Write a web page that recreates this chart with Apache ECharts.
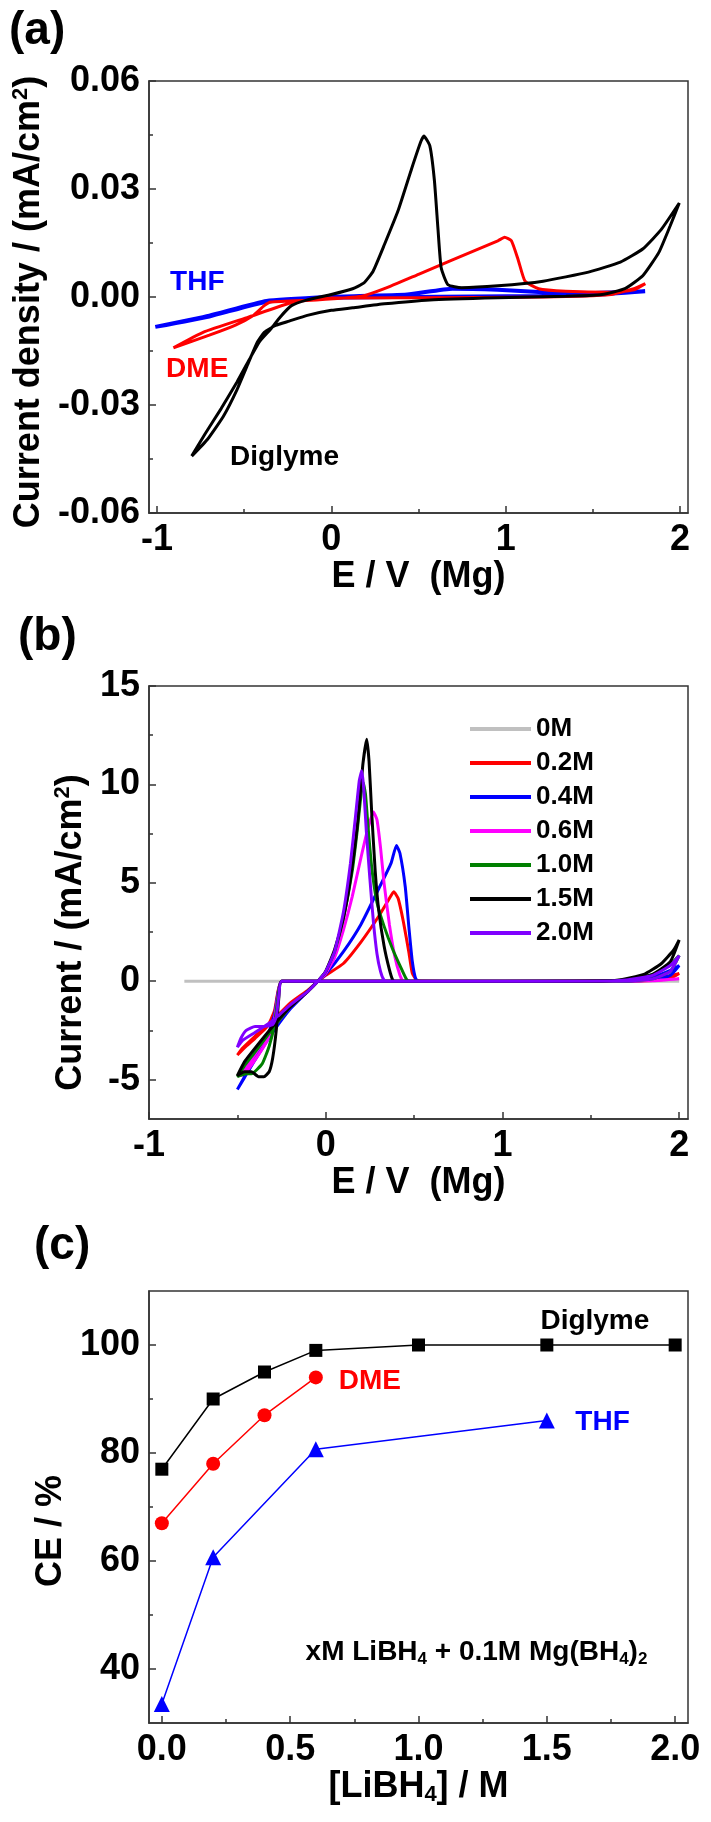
<!DOCTYPE html>
<html><head><meta charset="utf-8">
<script src="https://cdn.jsdelivr.net/npm/echarts@6/dist/echarts.min.js"></script>
<style>html,body{margin:0;padding:0;background:#fff}#c{width:711px;height:1822px}</style>
</head><body><div id="c"></div>
<script>
// ---------- Panel (a): CV in three solvents ----------
const aXTicks = [-1, 0, 1, 2];
const aXMinor = [-0.5, 0.5, 1.5];
const aYTicks = [-0.06, -0.03, 0, 0.03, 0.06];
const aYMinor = [-0.045, -0.015, 0.015, 0.045];
const aDiglyme = [[-0.801,-0.0442],[-0.723,-0.0379],[-0.632,-0.031],[-0.541,-0.0236],[-0.463,-0.0167],[-0.411,-0.0123],[-0.346,-0.0088],[-0.294,-0.0056],[-0.229,-0.0024],[-0.138,-0.0008],[0,0.0007],[0.122,0.0023],[0.187,0.0039],[0.239,0.0071],[0.304,0.0145],[0.383,0.024],[0.461,0.0357],[0.513,0.0431],[0.531,0.0447],[0.565,0.042],[0.591,0.0325],[0.612,0.0187],[0.63,0.0081],[0.669,0.0034],[0.747,0.0026],[0.955,0.0031],[1.215,0.0044],[1.475,0.0069],[1.658,0.0097],[1.788,0.0134],[1.892,0.0187],[1.996,0.0261],[1.944,0.0198],[1.879,0.0124],[1.788,0.006],[1.684,0.0023],[1.553,0.0007],[1.345,0.0002],[0.955,-0.0002],[0.565,-0.0008],[0.304,-0.0019],[0.122,-0.003],[0,-0.0037],[-0.138,-0.0051],[-0.242,-0.0067],[-0.32,-0.0079],[-0.385,-0.0098],[-0.424,-0.0125],[-0.476,-0.0183],[-0.541,-0.0257],[-0.619,-0.0331],[-0.71,-0.0395],[-0.801,-0.0442]];
const aDME = [[-0.906,-0.0141],[-0.7,-0.0106],[-0.55,-0.0078],[-0.45,-0.0052],[-0.385,-0.0024],[-0.346,-0.0014],[-0.086,-0.0008],[0.174,0.0002],[0.304,0.0023],[0.5,0.0063],[0.695,0.0103],[0.955,0.0156],[0.994,0.0166],[1.033,0.0156],[1.072,0.0103],[1.111,0.0044],[1.189,0.0023],[1.345,0.0016],[1.605,0.0013],[1.736,0.002],[1.801,0.0037],[1.736,0.0023],[1.605,0.0007],[1.215,0.0],[0.5,-0.0002],[0,-0.0003],[-0.216,-0.0014],[-0.476,-0.0056],[-0.736,-0.0098],[-0.906,-0.0141]];
const aTHF = [[-1.01,-0.0083],[-0.7,-0.0052],[-0.372,-0.0011],[0,0.0],[0.435,0.0007],[0.695,0.0023],[0.955,0.002],[1.215,0.0013],[1.475,0.0011],[1.8,0.0016],[1.5,0.0006],[1.2,0.0003],[0.435,0.0],[0,-0.0002],[-0.372,-0.0013],[-0.7,-0.0054],[-1.01,-0.0083]];
const aLabels = [["THF", -0.925, 0.0042, "#0000ff"], ["DME", -0.948, -0.020, "#ff0000"], ["Diglyme", -0.581, -0.0444, "#000000"]];

// ---------- Panel (b): CV vs LiBH4 concentration ----------
const bXTicks = [-1, 0, 1, 2];
const bXMinor = [-0.5, 0.5, 1.5];
const bYTicks = [-5, 0, 5, 10, 15];
const bYMinor = [-2.5, 2.5, 7.5, 12.5];
const bNames = ["0M", "0.2M", "0.4M", "0.6M", "1.0M", "1.5M", "2.0M"];
const bColors = ["#c0c0c0", "#ff0000", "#0000ff", "#ff00ff", "#008000", "#000000", "#8000ff"];
const b0M = [[-0.8,0],[2.0,0]];
const b02M = [[0.6,0],[-0.25,0],[-0.27,-0.5],[-0.29,-1.5],[-0.33,-2.3],[-0.4,-2.9],[-0.45,-3.3],[-0.5,-3.75],[-0.47,-3.4],[-0.4,-2.8],[-0.3,-2.0],[-0.2,-1.1],[-0.1,-0.45],[-0.05,-0.05],[0,0.3],[0.1,0.9],[0.2,2.0],[0.3,3.3],[0.36,4.2],[0.385,4.55],[0.41,4.2],[0.44,3.0],[0.47,1.5],[0.49,0.4],[0.52,0.02],[0.7,0],[1.5,0],[1.7,0.03],[1.85,0.12],[1.95,0.28],[2.0,0.4],[1.95,0.15],[1.85,0.04],[1.7,0],[0.6,0]];
const b04M = [[0.6,0],[-0.25,0],[-0.27,-0.6],[-0.29,-1.7],[-0.33,-2.8],[-0.4,-3.9],[-0.45,-4.7],[-0.5,-5.5],[-0.46,-4.9],[-0.4,-4.0],[-0.3,-2.6],[-0.2,-1.4],[-0.1,-0.5],[-0.05,-0.05],[0,0.35],[0.1,1.5],[0.2,2.9],[0.3,4.7],[0.37,6.0],[0.4,6.9],[0.42,6.5],[0.45,4.8],[0.47,2.8],[0.49,1.0],[0.51,0.1],[0.53,0],[1.5,0],[1.7,0.05],[1.85,0.22],[1.95,0.55],[2.0,0.8],[1.95,0.3],[1.85,0.07],[1.7,0],[0.6,0]];
const b06M = [[0.6,0],[-0.25,0],[-0.27,-0.7],[-0.29,-1.9],[-0.33,-3.0],[-0.4,-4.0],[-0.45,-4.6],[-0.48,-4.8],[-0.45,-4.4],[-0.4,-3.7],[-0.3,-2.4],[-0.2,-1.3],[-0.1,-0.5],[-0.05,-0.05],[0,0.4],[0.05,1.2],[0.1,2.6],[0.15,4.3],[0.2,6.3],[0.24,7.8],[0.27,8.6],[0.29,8.2],[0.31,6.8],[0.33,5.0],[0.36,2.9],[0.39,1.3],[0.42,0.3],[0.44,0],[1.5,0],[1.7,0.01],[1.85,0.04],[2.0,0.12],[1.85,0.02],[0.6,0]];
const b10M = [[0.6,0],[-0.25,0],[-0.27,-0.8],[-0.29,-2.2],[-0.32,-3.3],[-0.36,-4.2],[-0.42,-4.7],[-0.45,-4.7],[-0.5,-4.85],[-0.46,-4.3],[-0.4,-3.6],[-0.3,-2.4],[-0.2,-1.3],[-0.1,-0.5],[-0.05,-0.05],[0,0.5],[0.05,1.5],[0.1,3.2],[0.15,5.6],[0.18,7.8],[0.2,9.5],[0.212,10.1],[0.225,9.5],[0.24,7.8],[0.26,5.8],[0.29,4.0],[0.33,2.8],[0.38,1.6],[0.43,0.6],[0.46,0.05],[0.48,0],[1.5,0],[1.7,0.08],[1.85,0.35],[1.95,0.85],[2.0,1.3],[1.95,0.5],[1.85,0.12],[1.7,0.01],[0.6,0]];
const b15M = [[0.6,0],[-0.25,0],[-0.265,-0.8],[-0.28,-2.5],[-0.3,-3.9],[-0.32,-4.6],[-0.35,-4.85],[-0.38,-4.85],[-0.42,-4.6],[-0.46,-4.6],[-0.5,-4.8],[-0.46,-4.1],[-0.4,-3.4],[-0.3,-2.3],[-0.2,-1.3],[-0.1,-0.5],[-0.05,-0.05],[0,0.5],[0.05,1.6],[0.1,3.2],[0.14,5.2],[0.18,8.0],[0.21,11.0],[0.232,12.3],[0.245,11.2],[0.26,8.6],[0.28,5.6],[0.3,3.6],[0.33,1.8],[0.36,0.6],[0.38,0.05],[0.4,0],[1.5,0],[1.65,0.05],[1.8,0.35],[1.9,0.9],[1.97,1.6],[2.0,2.1],[1.95,1.0],[1.85,0.35],[1.7,0.05],[0.6,0]];
const b20M = [[0.6,0],[-0.25,0],[-0.265,-0.7],[-0.28,-1.8],[-0.3,-2.2],[-0.35,-2.3],[-0.4,-2.3],[-0.45,-2.5],[-0.48,-2.9],[-0.5,-3.35],[-0.47,-3.0],[-0.4,-2.6],[-0.3,-2.0],[-0.2,-1.2],[-0.1,-0.5],[-0.05,-0.05],[0,0.5],[0.05,1.5],[0.1,3.5],[0.14,6.0],[0.17,8.5],[0.19,10.2],[0.204,10.7],[0.215,9.8],[0.23,7.6],[0.25,5.2],[0.27,3.0],[0.29,1.4],[0.31,0.5],[0.33,0.05],[0.35,0],[1.5,0],[1.7,0.06],[1.85,0.3],[1.95,0.8],[2.0,1.3],[1.95,0.5],[1.85,0.12],[1.7,0.01],[0.6,0]];
const bData = [b0M, b02M, b04M, b06M, b10M, b15M, b20M];

// ---------- Panel (c): coulombic efficiency ----------
const cXTicks = [0, 0.5, 1.0, 1.5, 2.0];
const cXMinor = [0.25, 0.75, 1.25, 1.75];
const cYTicks = [40, 60, 80, 100];
const cYMinor = [50, 70, 90];
const cDiglymeX = [0, 0.2, 0.4, 0.6, 1.0, 1.5, 2.0];
const cDiglymeY = [77, 90, 95, 99, 100, 100, 100];
const cDMEX = [0, 0.2, 0.4, 0.6];
const cDMEY = [67, 78, 87, 94];
const cTHFX = [0, 0.2, 0.6, 1.5];
const cTHFY = [33.5, 60.7, 80.7, 86];
const cLabels = [["Diglyme", 1.475, 104.4, "#000000"], ["DME", 0.689, 93.3, "#ff0000"], ["THF", 1.611, 85.6, "#0000ff"]];

// ---------- build ----------
const FF = '"Liberation Sans", Arial, sans-serif';
const AX = '#333';
const grids = [
  {left:149, top:81, width:539, height:432},
  {left:149, top:686, width:539, height:433},
  {left:149, top:1291, width:539, height:432}
];
const nameRich = {
  n: {fontSize:36, fontWeight:'bold', fontFamily:FF, color:'#000'},
  sup: {fontSize:22, fontWeight:'bold', fontFamily:FF, color:'#000', padding:[0,0,16,0]},
  sub: {fontSize:22, fontWeight:'bold', fontFamily:FF, color:'#000', padding:[16,0,0,0]}
};
const xAxes = [], yAxes = [];
function addAxis(list, pos, gi, min, max, majors, minors, fmt, name, nameGap, namePad) {
  list.push({
    type:'value', gridIndex:gi, position:pos, min:min, max:max, splitLine:{show:false},
    axisLine:{show:true, onZero:false, lineStyle:{color:AX, width:1.5}},
    axisTick:{show:true, inside:true, length:7, customValues:majors, lineStyle:{color:AX, width:1.5}},
    axisLabel:{show:true, customValues:majors, formatter:fmt, fontSize:36, fontWeight:'bold', fontFamily:FF, color:'#000', margin:9},
    name:name, nameLocation:'middle', nameGap:nameGap,
    nameRotate: pos === 'left' ? 90 : 0,
    nameTextStyle:{rich:nameRich, padding:namePad || 0}
  });
  list.push({
    type:'value', gridIndex:gi, position:pos, min:min, max:max, splitLine:{show:false},
    axisLine:{show:false, onZero:false},
    axisTick:{show:true, inside:true, length:4, customValues:minors, lineStyle:{color:AX, width:1.5}},
    axisLabel:{show:false}
  });
}
const f2 = v => v.toFixed(2);
const f1 = v => v.toFixed(1);
const f0 = v => String(Math.round(v));
addAxis(xAxes, 'bottom', 0, -1.046, 2.046, aXTicks, aXMinor, f0, '{n|E / V  (Mg)}', 38);
addAxis(yAxes, 'left', 0, -0.06, 0.06, aYTicks, aYMinor, f2, '{n|Current density / (mA/cm}{sup|2}{n|)}', 95, [0,10,0,0]);
addAxis(xAxes, 'bottom', 1, -1, 2.05, bXTicks, bXMinor, f0, '{n|E / V  (Mg)}', 43);
addAxis(yAxes, 'left', 1, -7, 15, bYTicks, bYMinor, f0, '{n|Current / (mA/cm}{sup|2}{n|)}', 53, [0,60,0,0]);
addAxis(xAxes, 'bottom', 2, -0.05, 2.05, cXTicks, cXMinor, f1, '{n|[LiBH}{sub|4}{n|] / M}', 40);
addAxis(yAxes, 'left', 2, 30, 110, cYTicks, cYMinor, f0, '{n|CE / %}', 69, [0,48,0,0]);

const series = [];
series.push({type:'line', xAxisIndex:0, yAxisIndex:0, data:aTHF, showSymbol:false, smooth:0.15, lineStyle:{color:'#0000ff', width:4}, itemStyle:{color:'#0000ff'}});
series.push({type:'line', xAxisIndex:0, yAxisIndex:0, data:aDME, showSymbol:false, smooth:0.15, lineStyle:{color:'#ff0000', width:3}, itemStyle:{color:'#ff0000'}});
series.push({type:'line', xAxisIndex:0, yAxisIndex:0, data:aDiglyme, showSymbol:false, smooth:0.15, lineStyle:{color:'#000000', width:3}, itemStyle:{color:'#000'}});
bNames.forEach((n, i) => {
  series.push({type:'line', name:n, xAxisIndex:2, yAxisIndex:2, data:bData[i], showSymbol:false, smooth:0.15,
    lineStyle:{color:bColors[i], width:3}, itemStyle:{color:bColors[i]}});
});
const zip = (xs, ys) => xs.map((x, i) => [x, ys[i]]);
series.push({type:'line', xAxisIndex:4, yAxisIndex:4, data:zip(cDiglymeX, cDiglymeY), symbol:'rect', symbolSize:13, lineStyle:{color:'#000', width:1.5}, itemStyle:{color:'#000'}});
series.push({type:'line', xAxisIndex:4, yAxisIndex:4, data:zip(cDMEX, cDMEY), symbol:'circle', symbolSize:14, lineStyle:{color:'#ff0000', width:1.5}, itemStyle:{color:'#ff0000'}});
series.push({type:'line', xAxisIndex:4, yAxisIndex:4, data:zip(cTHFX, cTHFY), symbol:'triangle', symbolSize:16, lineStyle:{color:'#0000ff', width:1.5}, itemStyle:{color:'#0000ff'}});

const option = {
  animation:false,
  backgroundColor:'#fff',
  grid: grids.map(g => Object.assign({show:true, borderColor:AX, borderWidth:1.5, backgroundColor:'transparent', containLabel:false}, g)),
  xAxis: xAxes, yAxis: yAxes,
  legend: {data:bNames, orient:'vertical', left:465, top:711, itemWidth:61, itemHeight:4, itemGap:8, icon:'rect', selectedMode:false,
    textStyle:{fontSize:26, fontWeight:'bold', fontFamily:FF, color:'#000', lineHeight:26}},
  series: series
};
const chart = echarts.init(document.getElementById('c'), null, {renderer:'canvas', width:711, height:1822});
chart.setOption(option);

const graphics = [];
[["(a)", 9, 31], ["(b)", 18, 637], ["(c)", 34, 1246]].forEach(p => {
  graphics.push({type:'text', x:p[1], y:p[2], style:{text:p[0], fill:'#000', font:'bold 46px ' + FF, textAlign:'left', textVerticalAlign:'middle'}});
});
aLabels.forEach(l => {
  const p = chart.convertToPixel({xAxisIndex:0, yAxisIndex:0}, [l[1], l[2]]);
  graphics.push({type:'text', x:p[0], y:p[1], style:{text:l[0], fill:l[3], font:'bold 28px ' + FF, textAlign:'left', textVerticalAlign:'middle'}});
});
cLabels.forEach(l => {
  const p = chart.convertToPixel({xAxisIndex:4, yAxisIndex:4}, [l[1], l[2]]);
  graphics.push({type:'text', x:p[0], y:p[1], style:{text:l[0], fill:l[3], font:'bold 28px ' + FF, textAlign:'left', textVerticalAlign:'middle'}});
});
const annoPos = chart.convertToPixel({xAxisIndex:4, yAxisIndex:4}, [0.56, 43.1]);
graphics.push({type:'text', x:annoPos[0], y:annoPos[1], style:{
  text:'{t|xM LiBH}{s|4}{t| + 0.1M Mg(BH}{s|4}{t|)}{s|2}',
  rich:{t:{fontSize:28, fontWeight:'bold', fontFamily:FF, fill:'#000'}, s:{fontSize:17, fontWeight:'bold', fontFamily:FF, fill:'#000', padding:[14,0,0,0]}},
  textAlign:'left', textVerticalAlign:'middle'}});
chart.setOption({graphic: graphics});
</script></body></html>
